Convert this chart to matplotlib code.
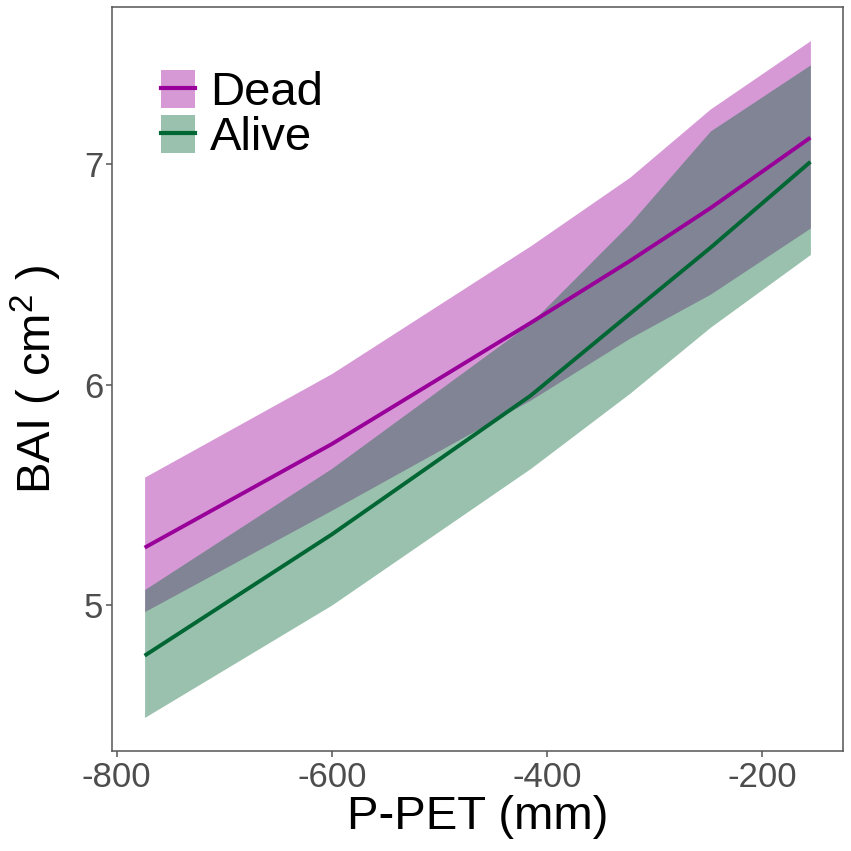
import numpy as np
import matplotlib
matplotlib.use("Agg")
import matplotlib.pyplot as plt
from matplotlib.patches import Patch
from matplotlib.lines import Line2D

plt.rcParams['font.family'] = ['Liberation Sans', 'DejaVu Sans']
plt.rcParams['mathtext.fontset'] = 'custom'
plt.rcParams['mathtext.rm'] = 'Liberation Sans'
plt.rcParams['mathtext.it'] = 'Liberation Sans'
plt.rcParams['mathtext.default'] = 'regular'

# ---- data ----
ppet = np.array([-774, -600, -415, -323, -248, -155])

dead_fit = np.array([5.26, 5.73, 6.28, 6.56, 6.80, 7.12])
dead_lo = np.array([4.97, 5.43, 5.93, 6.21, 6.41, 6.71])
dead_hi = np.array([5.58, 6.05, 6.63, 6.94, 7.25, 7.56])

alive_fit = np.array([4.77, 5.32, 5.95, 6.32, 6.62, 7.01])
alive_lo = np.array([4.49, 5.00, 5.62, 5.96, 6.26, 6.59])
alive_hi = np.array([5.07, 5.62, 6.28, 6.73, 7.15, 7.45])

groups = ["Dead", "Alive"]
colors = {"Dead": "#990099", "Alive": "#006633"}
xticks = [-800, -600, -400, -200]
yticks = [5, 6, 7]

# ---- figure ----
W = H = 851
fig = plt.figure(figsize=(W / 100, H / 100), dpi=100)
ax = fig.add_axes([111.7 / W, 1 - 750.7 / H, (843 - 111.7) / W, (750.7 - 7.3) / H])

alpha = 0.4
ax.fill_between(ppet, dead_lo, dead_hi, color=colors["Dead"], alpha=alpha, lw=0)
ax.fill_between(ppet, alive_lo, alive_hi, color=colors["Alive"], alpha=alpha, lw=0)
ax.plot(ppet, dead_fit, color=colors["Dead"], lw=2.8, solid_capstyle='butt')
ax.plot(ppet, alive_fit, color=colors["Alive"], lw=2.8, solid_capstyle='butt')

ax.set_xlim(-804.6, -124.7)
ax.set_ylim(4.339, 7.711)
ax.set_xticks(xticks)
ax.set_xticklabels([str(t) for t in xticks])
ax.set_yticks(yticks)
ax.set_yticklabels([str(t) for t in yticks])

for s in ax.spines.values():
    s.set_color('#555555')
    s.set_linewidth(1.1)
ax.tick_params(axis='both', direction='out', length=4.2, width=1.1,
               color='#555555', labelcolor='#4D4D4D', labelsize=25)
ax.tick_params(axis='x', pad=3)
ax.tick_params(axis='y', pad=2)

ax.set_xlabel("P-PET (mm)", fontsize=34, color='black', labelpad=1)
ax.set_ylabel(r"BAI ( cm$^{2}$ )", fontsize=34, color='black', labelpad=14)

handles = [(Patch(facecolor=colors[g], alpha=alpha, lw=0),
            Line2D([0], [0], color=colors[g], lw=3)) for g in groups]
leg = fig.legend(handles, groups, loc='upper left',
                 bbox_to_anchor=(161 / W, 1 - 70 / H), bbox_transform=fig.transFigure,
                 frameon=False, fontsize=34, handlelength=0.72, handleheight=0.85,
                 handletextpad=0.32, labelspacing=0.0, borderpad=0, borderaxespad=0)

fig.savefig("out.png", dpi=100)
